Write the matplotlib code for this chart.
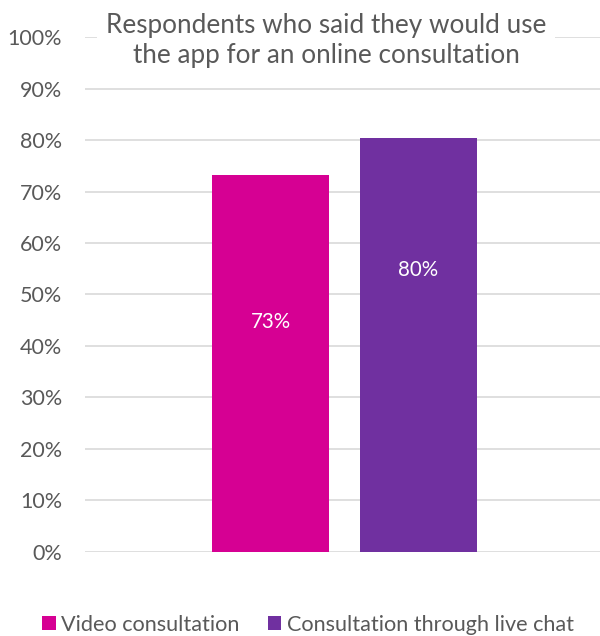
import matplotlib
matplotlib.use("Agg")
import matplotlib.pyplot as plt
import numpy as np

# survey results (% of respondents)
series = ["Video consultation", "Consultation through live chat"]
values = [73.2, 80.4]
colors = ["#D60093", "#7030A0"]
yticks = [0, 10, 20, 30, 40, 50, 60, 70, 80, 90, 100]
title = "Respondents who said they would use\nthe app for an online consultation"

# where the in-bar labels sit (in % units)
label_y = [44.6, 54.8]

plt.rcParams['font.family'] = ['Lato', 'DejaVu Sans']
text_grey = "#595959"

fig = plt.figure(figsize=(6, 6.36), dpi=100)
ax = fig.add_axes([85 / 600, (636 - 551.5) / 636, 515 / 600, 514 / 636])

x = np.arange(len(series))
width = 117 / 148
for i, (name, val, col) in enumerate(zip(series, values, colors)):
    ax.bar(x[i], val, width=width, color=col, label=name, zorder=3)
    ax.text(x[i], label_y[i], f"{val:.0f}%", ha="center", va="center",
            color="white", fontsize=14.8, zorder=4)

ax.set_xlim((85 - 270.5) / 148, (600 - 270.5) / 148)
ax.set_ylim(0, 100)
ax.set_yticks(yticks)
ax.set_yticklabels([f"{t}%" for t in yticks], fontsize=15.5, color=text_grey)
ax.tick_params(axis="y", length=0, pad=16.5)
ax.set_xticks([])
ax.grid(axis="y", color="#d9d9d9", linewidth=1.2, zorder=0)
ax.set_axisbelow(True)
for s in ax.spines.values():
    s.set_visible(False)

fig.text(326 / 600, 1 - 41 / 636, title, ha="center", va="center",
         fontsize=18.8, color=text_grey, linespacing=1.25,
         bbox=dict(facecolor="white", edgecolor="none", pad=6))

leg = fig.legend(loc="center", bbox_to_anchor=(308 / 600, 1 - 625 / 636),
                 ncol=2, frameon=False, fontsize=15.6, handlelength=0.62,
                 handleheight=0.62, handletextpad=0.25, columnspacing=1.3)
for t in leg.get_texts():
    t.set_color(text_grey)

fig.savefig("out.png", dpi=100)
